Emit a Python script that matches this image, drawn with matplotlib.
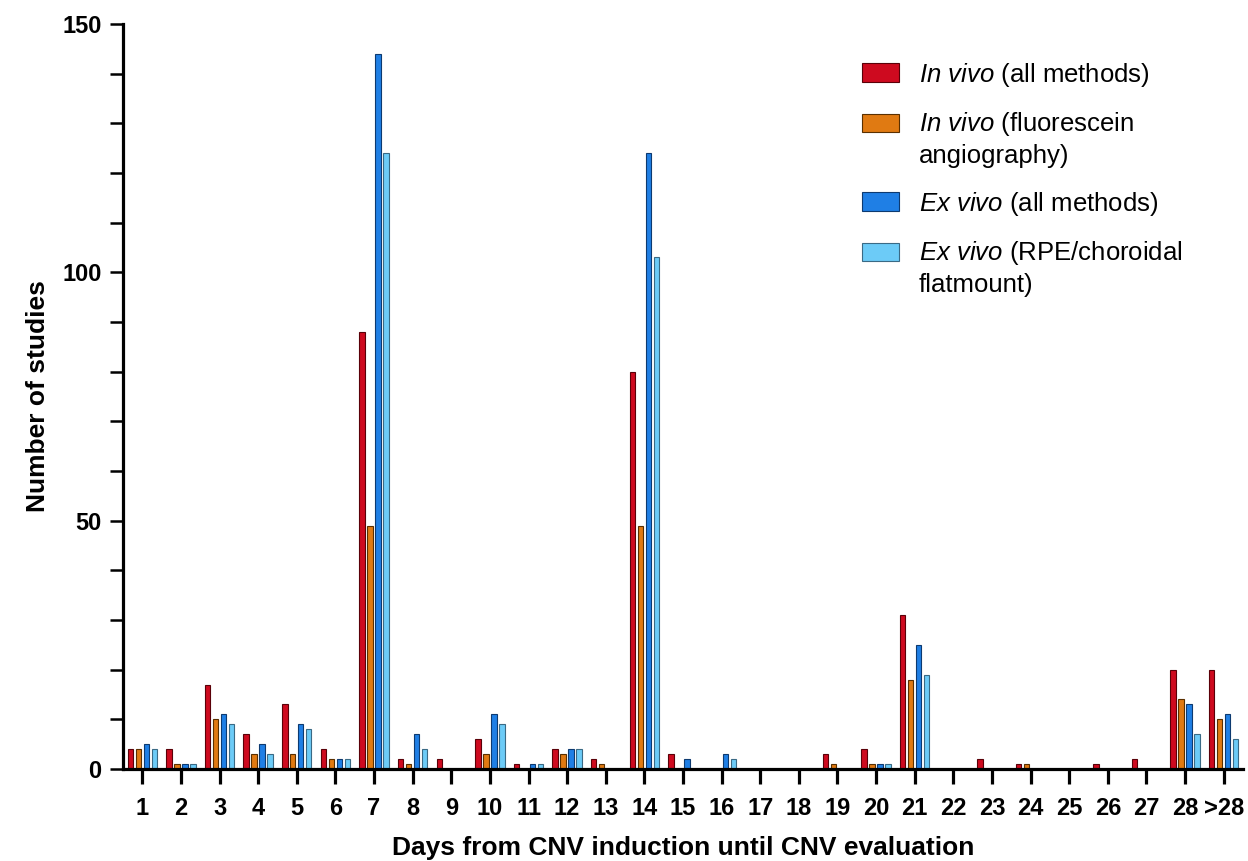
import matplotlib
matplotlib.use("Agg")
import matplotlib.pyplot as plt
import numpy as np
from matplotlib.patches import Patch, Rectangle
from matplotlib.legend_handler import HandlerPatch

plt.rcParams['font.family'] = ['Liberation Sans', 'DejaVu Sans']
plt.rcParams['mathtext.fontset'] = 'custom'
plt.rcParams['mathtext.rm'] = 'Liberation Sans'
plt.rcParams['mathtext.it'] = 'Liberation Sans:italic'

days = ['1', '2', '3', '4', '5', '6', '7', '8', '9', '10', '11', '12', '13', '14',
        '15', '16', '17', '18', '19', '20', '21', '22', '23', '24', '25', '26', '27',
        '28', '>28']
in_vivo_all = [4, 4, 17, 7, 13, 4, 88, 2, 2, 6, 1, 4, 2, 80, 3, 0, 0, 0, 3, 4, 31,
               0, 2, 1, 0, 1, 2, 20, 20]
in_vivo_fa = [4, 1, 10, 3, 3, 2, 49, 1, 0, 3, 0, 3, 1, 49, 0, 0, 0, 0, 1, 1, 18,
              0, 0, 1, 0, 0, 0, 14, 10]
ex_vivo_all = [5, 1, 11, 5, 9, 2, 144, 7, 0, 11, 1, 4, 0, 124, 2, 3, 0, 0, 0, 1, 25,
               0, 0, 0, 0, 0, 0, 13, 11]
ex_vivo_flat = [4, 1, 9, 3, 8, 2, 124, 4, 0, 9, 1, 4, 0, 103, 0, 2, 0, 0, 0, 1, 19,
                0, 0, 0, 0, 0, 0, 7, 6]

labels = [r'$\mathit{In\ vivo}$ (all methods)',
          r'$\mathit{In\ vivo}$ (fluorescein' + '\nangiography)',
          r'$\mathit{Ex\ vivo}$ (all methods)',
          r'$\mathit{Ex\ vivo}$ (RPE/choroidal' + '\nflatmount)']
colors = ['#CE0A1F', '#E07A12', '#1F7FE5', '#6CCBF7']
edges = ['#5a0008', '#5a3000', '#0d3a70', '#3a6a85']

fig = plt.figure(figsize=(12.48, 8.61), dpi=100)
ax = fig.add_axes([123 / 1248, 92 / 861, 1120 / 1248, 745 / 861])

x = np.arange(1, len(days) + 1)
pitch = 0.207
width = 0.14
series = [in_vivo_all, in_vivo_fa, ex_vivo_all, ex_vivo_flat]
for i, (vals, c, e) in enumerate(zip(series, colors, edges)):
    ax.bar(x + (i - 1.5) * pitch, vals, width=width, color=c, edgecolor=e,
           linewidth=0.8, zorder=2)

ax.set_xlim(0.5, 29.5)
ax.set_ylim(0, 150)
ax.set_xticks(x)
ax.set_xticklabels(days)
ax.set_yticks([0, 50, 100, 150])
ax.set_yticks(np.arange(0, 151, 10), minor=True)

for s in ['top', 'right']:
    ax.spines[s].set_visible(False)
for s in ['left', 'bottom']:
    ax.spines[s].set_linewidth(2.3)
    ax.spines[s].set_zorder(3)

ax.tick_params(axis='x', which='major', length=11, width=2.3, labelsize=17,
               pad=9.5)
ax.tick_params(axis='y', which='both', length=9.5, width=1.8, labelsize=17,
               pad=6)
for lab in ax.get_xticklabels() + ax.get_yticklabels():
    lab.set_fontweight('bold')

ax.set_ylabel('Number of studies', fontsize=19, fontweight='bold', labelpad=9)
ax.set_xlabel('Days from CNV induction until CNV evaluation', fontsize=19,
              fontweight='bold', labelpad=11)

LEG_FS = 18.5
LINESP = 1.28


def make_patch(shift_lines):
    def f(legend, orig_handle, xdescent, ydescent, width, height, fontsize):
        return Rectangle((-xdescent,
                          -ydescent + shift_lines * 0.5 * LINESP * fontsize),
                         width, height)
    return f


handles = [Patch(facecolor=c, edgecolor=e, linewidth=0.8)
           for c, e in zip(colors, edges)]
shifts = [0, 1, 0, 1]
hmap = {h: HandlerPatch(patch_func=make_patch(s)) for h, s in zip(handles, shifts)}
leg = ax.legend(handles, labels, loc='upper left', bbox_to_anchor=(0.66, 0.951),
                frameon=False, fontsize=LEG_FS, handlelength=1.45,
                handleheight=0.72, handletextpad=0.75, labelspacing=0.85,
                borderpad=0, borderaxespad=0, handler_map=hmap)
for t in leg.get_texts():
    t.set_linespacing(LINESP)

fig.savefig('out.png', dpi=100)
